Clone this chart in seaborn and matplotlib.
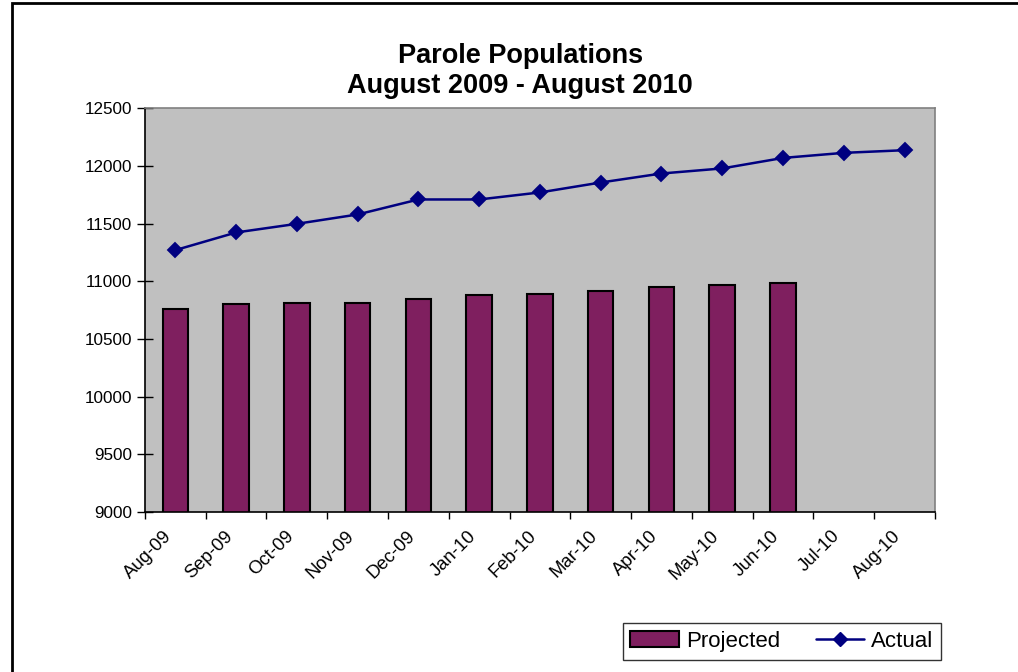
import numpy as np
import pandas as pd
import seaborn as sns
import matplotlib.pyplot as plt
from matplotlib.patches import Patch, Rectangle
from matplotlib.lines import Line2D

# data
months = ['Aug-09', 'Sep-09', 'Oct-09', 'Nov-09', 'Dec-09', 'Jan-10', 'Feb-10',
          'Mar-10', 'Apr-10', 'May-10', 'Jun-10', 'Jul-10', 'Aug-10']
projected = [10764, 10805, 10810, 10816, 10845, 10880, 10894, 10914, 10952, 10969, 10981]
actual = [11270, 11423, 11498, 11579, 11709, 11709, 11770, 11856, 11934, 11978, 12069, 12113, 12136]

bar_color = '#7F1F5F'
line_color = '#000080'

sns.set_theme(style='white')
plt.rcParams['font.family'] = ['Liberation Sans', 'DejaVu Sans']
plt.rcParams['text.color'] = 'black'
plt.rcParams['xtick.color'] = 'black'
plt.rcParams['ytick.color'] = 'black'

fig = plt.figure(figsize=(10.18, 6.72), dpi=100)

# outer chart border (right and bottom edges fall outside the image)
fig.patches.append(Rectangle((12 / 1018, -0.05), 1.1, 0.05 + 1 - 3.5 / 672,
                             transform=fig.transFigure, fill=False,
                             edgecolor='black', linewidth=2, clip_on=False))

ax = fig.add_axes([0.1424, 0.238, 0.776, 0.601])
ax.set_facecolor('#C0C0C0')

proj_df = pd.DataFrame({'month': months[:len(projected)], 'value': projected})
sns.barplot(data=proj_df, x='month', y='value', order=months, color=bar_color,
            saturation=1, width=0.42, edgecolor='black', linewidth=1.5, ax=ax)

act_df = pd.DataFrame({'month': months, 'value': actual})
sns.pointplot(data=act_df, x='month', y='value', order=months, color=line_color,
              markers='D', markersize=7, linewidth=1.8, ax=ax)

ax.set_ylim(9000, 12500)
ax.set_yticks(np.arange(9000, 12501, 500))
ax.set_xlim(-0.5, len(months) - 0.5)
ax.set_xlabel('')
ax.set_ylabel('')

# ticks at category boundaries, labels at centers
ax.set_xticks(np.arange(-0.5, len(months), 1.0))
ax.set_xticklabels([])
ax.set_xticks(np.arange(len(months)), minor=True)
ax.set_xticklabels(months, minor=True, rotation=45, ha='right', fontsize=13.3)
ax.tick_params(axis='x', which='major', direction='out', length=5, width=1, bottom=True)
ax.tick_params(axis='x', which='minor', length=0, pad=11)
ax.tick_params(axis='y', direction='inout', length=12, width=1, left=True,
               labelsize=12.3, pad=3)

for side in ['top', 'right']:
    ax.spines[side].set_color('#808080')
    ax.spines[side].set_linewidth(1.2)
for side in ['left', 'bottom']:
    ax.spines[side].set_color('black')
    ax.spines[side].set_linewidth(1.2)

fig.text(0.511, 0.894, 'Parole Populations\nAugust 2009 - August 2010', ha='center',
         va='center', fontsize=19.5, fontweight='bold', linespacing=1.2)

handles = [Patch(facecolor=bar_color, edgecolor='black', linewidth=1.5, label='Projected'),
           Line2D([], [], color=line_color, marker='D', markersize=7, linewidth=1.8, label='Actual')]
leg = fig.legend(handles=handles, loc='center', bbox_to_anchor=(0.768, 0.0454), ncol=2,
                 fontsize=16, frameon=True, fancybox=False, handlelength=2.2,
                 handletextpad=0.3, columnspacing=1.6, borderpad=0.35, borderaxespad=0)
leg.get_frame().set_edgecolor('black')
leg.get_frame().set_linewidth(1.0)

fig.savefig('out.png', dpi=100)
